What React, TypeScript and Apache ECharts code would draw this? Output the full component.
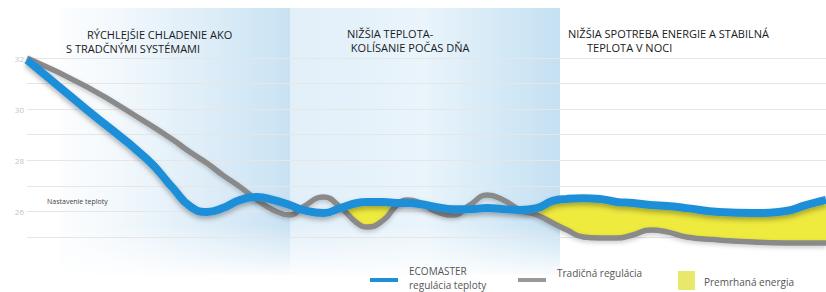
import React, { useEffect, useRef } from 'react';
import * as echarts from 'echarts';

// x position along the day (0–100 % of the time span)
const xs = [0, 7.5, 15, 18.3, 20.4, 22.5, 24.5, 26.7, 28.8, 30.8, 32.9, 34.5, 37.1, 39.2, 41.3, 42.6, 44.6, 46.3, 47.6, 49.2, 51.3, 53.3, 55.4, 57.6, 59.6, 61.7, 63.8, 65.8, 67.6, 69.6, 71.7, 73.8, 75.8, 78, 80.1, 82.5, 86.6, 90.9, 95, 97.5, 100];

// ECOMASTER regulácia teploty (°C)
const ecomaster = [31.92, 29.97, 28.05, 26.9, 26.2, 25.98, 26.13, 26.45, 26.56, 26.45, 26.25, 26.06, 25.94, 26.13, 26.33, 26.37, 26.37, 26.33, 26.33, 26.29, 26.17, 26.09, 26.09, 26.13, 26.09, 26.06, 26.13, 26.41, 26.49, 26.52, 26.49, 26.37, 26.33, 26.25, 26.21, 26.13, 25.98, 25.94, 26.02, 26.25, 26.45];

// Tradičná regulácia (°C)
const tradicna = [32.0, 30.87, 29.46, 28.79, 28.32, 27.89, 27.42, 26.95, 26.45, 26.06, 25.86, 26.17, 26.56, 26.17, 25.55, 25.39, 25.66, 26.25, 26.45, 26.33, 25.98, 25.86, 26.25, 26.64, 26.45, 26.06, 25.86, 25.55, 25.27, 25.0, 24.96, 24.96, 25.08, 25.27, 25.2, 25.0, 24.88, 24.8, 24.77, 24.77, 24.77];

// wasted energy is shown from the start of the day phase
const wasteStartX = 38;

const yTicks = [25, 26, 27, 28, 29, 30, 31, 32];

const phaseTitles = [
  ['RÝCHLEJŠIE CHLADENIE AKO', 'S TRADČNÝMI SYSTÉMAMI'],
  ['NIŽŠIA TEPLOTA-', ' KOLÍSANIE POČAS DŇA'],
  ['NIŽŠIA SPOTREBA ENERGIE A STABILNÁ', 'TEPLOTA V NOCI'],
];

const legendNames = ['ECOMASTER', 'regulácia teploty', 'Tradičná regulácia', 'Premrhaná energia'];
const setpointLabel = 'Nastavenie teploty';

const BLUE = '#1f8fd8';
const GRAY = '#8a8a8a';
const YELLOW = '#eeea3e';
const FONT = '"Open Sans", sans-serif';
const SCALE = 1000; // x units -> time-axis units (time axis keeps stacking on the y dimension)

export default function App() {
  const ref = useRef<HTMLDivElement>(null);
  useEffect(() => {
    const chart = echarts.init(ref.current!, null, { renderer: 'svg' });
    const grayData = xs.map((x, i) => [x * SCALE, tradicna[i]]);
    const blueData = xs.map((x, i) => [x * SCALE, ecomaster[i]]);
    const wasteData = xs.map((x, i) => [x * SCALE, x >= wasteStartX ? Math.max(ecomaster[i] - tradicna[i], 0) : 0]);

    const text = (t: string, x: number, y: number, size: number, fill: string, z = 10) => ({
      type: 'text', x, y, z,
      style: { text: t, fontSize: size, fontFamily: FONT, fill, textVerticalAlign: 'middle' },
    });

    chart.setOption({
      animation: false,
      grid: { left: 27, right: 0, top: 58, bottom: 55, containLabel: false },
      xAxis: { type: 'time', min: 0, max: 100 * SCALE, show: false },
      yAxis: {
        type: 'value', min: yTicks[0], max: yTicks[yTicks.length - 1], interval: 1,
        axisLine: { show: false }, axisTick: { show: false },
        axisLabel: {
          margin: 3, fontSize: 8, color: '#c4c4c4', fontFamily: FONT,
          formatter: (v: number) => (v % 2 === 0 ? String(v) : ''),
        },
        splitLine: { lineStyle: { color: '#e6e6e6', width: 1 } },
      },
      graphic: [
        {
          type: 'rect', z: -5, shape: { x: 60, y: 8, width: 230, height: 267 },
          style: {
            fill: new echarts.graphic.LinearGradient(0, 0, 1, 0, [
              { offset: 0, color: 'rgba(236,245,251,0.2)' },
              { offset: 0.5, color: 'rgba(222,237,248,0.8)' },
              { offset: 1, color: 'rgba(200,226,243,1)' },
            ]),
          },
        },
        {
          type: 'rect', z: -5, shape: { x: 290, y: 8, width: 270, height: 267 },
          style: {
            fill: new echarts.graphic.LinearGradient(0, 0, 1, 0, [
              { offset: 0, color: 'rgba(226,239,249,1)' },
              { offset: 0.5, color: 'rgba(233,244,251,1)' },
              { offset: 1, color: 'rgba(196,224,242,1)' },
            ]),
          },
        },
        {
          type: 'rect', z: -4, shape: { x: 0, y: 225, width: 826, height: 55 },
          style: {
            fill: new echarts.graphic.LinearGradient(0, 0, 0, 1, [
              { offset: 0, color: 'rgba(255,255,255,0)' },
              { offset: 1, color: 'rgba(255,255,255,1)' },
            ]),
          },
        },
        text(phaseTitles[0][0], 87, 34, 11, '#1a1a1a'),
        text(phaseTitles[0][1], 66, 48, 11, '#1a1a1a'),
        text(phaseTitles[1][0], 347, 33, 11, '#1a1a1a'),
        text(phaseTitles[1][1], 348, 47, 11, '#1a1a1a'),
        text(phaseTitles[2][0], 568, 33, 11, '#1a1a1a'),
        text(phaseTitles[2][1], 587, 47, 11, '#1a1a1a'),
        text(setpointLabel, 47, 201, 7, '#444'),
        { type: 'line', z: 10, shape: { x1: 370, y1: 280, x2: 398, y2: 280 }, style: { stroke: BLUE, lineWidth: 4 } },
        text(legendNames[0], 409, 271, 10, '#555'),
        text(legendNames[1], 409, 285, 10, '#555'),
        { type: 'line', z: 10, shape: { x1: 518, y1: 280, x2: 546, y2: 280 }, style: { stroke: '#999', lineWidth: 4 } },
        text(legendNames[2], 557, 273, 10, '#555'),
        { type: 'rect', z: 10, shape: { x: 678, y: 271, width: 17, height: 19 }, style: { fill: '#e8e86a' } },
        text(legendNames[3], 704, 282, 10, '#555'),
      ],
      series: [
        {
          name: 'base', type: 'line', stack: 'w', data: grayData, smooth: 0.5, clip: false,
          showSymbol: false, lineStyle: { width: 0, opacity: 0 }, silent: true, z: 1,
        },
        {
          name: legendNames[3], type: 'line', stack: 'w', data: wasteData, smooth: 0.5, clip: false,
          showSymbol: false, lineStyle: { width: 0, opacity: 0 }, areaStyle: { color: YELLOW, opacity: 1 }, z: 1,
        },
        {
          name: legendNames[2], type: 'line', data: grayData, smooth: 0.5, clip: false, showSymbol: false, z: 2,
          lineStyle: { color: GRAY, width: 5.5, shadowColor: 'rgba(0,0,0,0.2)', shadowBlur: 4, shadowOffsetY: 2 },
        },
        {
          name: legendNames[0], type: 'line', data: blueData, smooth: 0.5, clip: false, showSymbol: false, z: 3,
          lineStyle: { color: BLUE, width: 8, shadowColor: 'rgba(0,0,0,0.3)', shadowBlur: 5, shadowOffsetY: 3 },
        },
      ],
    });
    return () => chart.dispose();
  }, []);
  return <div ref={ref} style={{ position: 'absolute', left: 0, top: 0, width: 826, height: 292 }} />;
}
